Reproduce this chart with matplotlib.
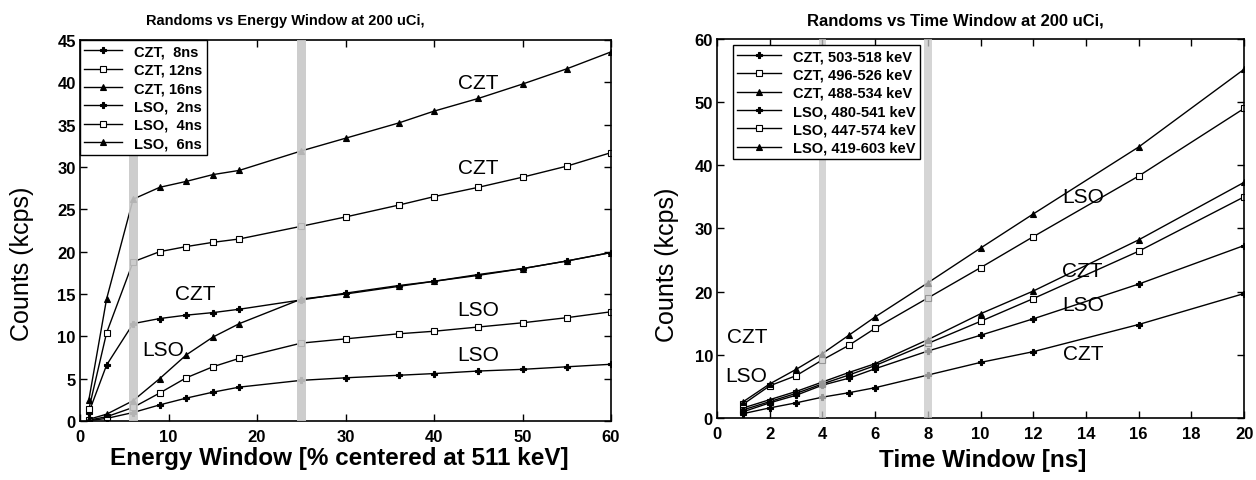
import matplotlib
matplotlib.use("Agg")
import matplotlib.pyplot as plt

plt.rcParams['font.family'] = ['Liberation Sans', 'DejaVu Sans']

# left panel: energy window sweep
energy_x = [1, 3, 6, 9, 12, 15, 18, 25, 30, 36, 40, 45, 50, 55, 60]
czt_8ns = [1.0, 6.6, 11.5, 12.1, 12.5, 12.8, 13.2, 14.3, 15.1, 16.0, 16.5, 17.3, 18.0, 18.9, 19.9]
czt_12ns = [1.4, 10.4, 18.8, 20.0, 20.6, 21.1, 21.5, 23.0, 24.1, 25.5, 26.5, 27.6, 28.8, 30.1, 31.7]
czt_16ns = [2.5, 14.4, 26.2, 27.6, 28.3, 29.1, 29.6, 31.9, 33.4, 35.2, 36.6, 38.1, 39.8, 41.6, 43.6]
lso_2ns = [0.05, 0.3, 1.0, 1.9, 2.7, 3.4, 4.0, 4.8, 5.1, 5.4, 5.6, 5.9, 6.1, 6.4, 6.7]
lso_4ns = [0.1, 0.5, 1.6, 3.3, 5.1, 6.4, 7.4, 9.2, 9.7, 10.3, 10.6, 11.1, 11.6, 12.2, 12.9]
lso_6ns = [0.2, 0.8, 2.4, 5.0, 7.8, 9.9, 11.5, 14.4, 15.0, 15.9, 16.5, 17.2, 18.0, 18.9, 19.9]
energy_labels = ['CZT,  8ns', 'CZT, 12ns', 'CZT, 16ns', 'LSO,  2ns', 'LSO,  4ns', 'LSO,  6ns']

# right panel: time window sweep
time_x = [1, 2, 3, 4, 5, 6, 8, 10, 12, 16, 20]
czt_503 = [0.7, 1.6, 2.4, 3.3, 4.0, 4.8, 6.8, 8.8, 10.5, 14.8, 19.7]
czt_496 = [1.3, 2.6, 3.9, 5.4, 6.8, 8.3, 11.8, 15.3, 18.9, 26.4, 35.0]
czt_488 = [1.6, 2.9, 4.2, 5.7, 7.2, 8.6, 12.4, 16.5, 20.1, 28.2, 37.3]
lso_480 = [1.0, 2.4, 3.6, 5.2, 6.3, 7.8, 10.6, 13.1, 15.7, 21.2, 27.3]
lso_447 = [2.2, 5.1, 6.7, 9.2, 11.5, 14.2, 19.0, 23.8, 28.7, 38.3, 49.0]
lso_419 = [2.6, 5.4, 7.7, 10.2, 13.1, 16.0, 21.4, 26.9, 32.3, 42.9, 55.2]
time_labels = ['CZT, 503-518 keV', 'CZT, 496-526 keV', 'CZT, 488-534 keV',
               'LSO, 480-541 keV', 'LSO, 447-574 keV', 'LSO, 419-603 keV']

markers = ['P', 's', '^', 'P', 's', '^']

fig = plt.figure(figsize=(12.56, 4.81), dpi=100)
ax1 = fig.add_axes([0.0637, 0.1227, 0.4228, 0.792])
ax2 = fig.add_axes([0.5709, 0.1289, 0.4196, 0.788])


def draw(ax, x, series, labels):
    for ys, lab, m in zip(series, labels, markers):
        mfc = 'white' if m == 's' else 'black'
        ax.plot(x, ys, color='black', linewidth=1.0, marker=m, markersize=4,
                markerfacecolor=mfc, markeredgecolor='black', markeredgewidth=0.8,
                label=lab, zorder=2)


draw(ax1, energy_x, [czt_8ns, czt_12ns, czt_16ns, lso_2ns, lso_4ns, lso_6ns], energy_labels)
draw(ax2, time_x, [czt_503, czt_496, czt_488, lso_480, lso_447, lso_419], time_labels)

# grey window markers
for c in [6, 25]:
    ax1.axvspan(c - 0.5, c + 0.5, color='#c8c8c8', alpha=0.9, lw=0, zorder=3)
for c in [4, 8]:
    ax2.axvspan(c - 0.15, c + 0.15, color='#c8c8c8', alpha=0.75, lw=0, zorder=3)

ax1.set_xlim(0, 60)
ax1.set_ylim(0, 45)
ax1.set_xticks(range(0, 61, 10))
ax1.set_yticks(range(0, 46, 5))
ax2.set_xlim(0, 20)
ax2.set_ylim(0, 60)
ax2.set_xticks(range(0, 21, 2))
ax2.set_yticks(range(0, 61, 10))

for ax in (ax1, ax2):
    ax.tick_params(direction='in', top=True, right=True, length=5, width=1.0,
                   labelsize=12)
    ax.tick_params(axis='x', pad=6)
    ax.tick_params(axis='y', pad=3)
    for lab in ax.get_xticklabels() + ax.get_yticklabels():
        lab.set_fontweight('bold')
    for sp in ax.spines.values():
        sp.set_linewidth(1.2)

leg1 = ax1.legend(loc='upper left', borderaxespad=0, fancybox=False, edgecolor='black',
                  prop={'size': 10.5, 'weight': 'bold'}, handlelength=2.6,
                  handletextpad=0.8, labelspacing=0.3, borderpad=0.3, framealpha=1)
leg1.get_frame().set_linewidth(1.0)
leg2 = ax2.legend(loc='upper left', bbox_to_anchor=(0.03, 0.985), borderaxespad=0,
                  fancybox=False, edgecolor='black', prop={'size': 10.5, 'weight': 'bold'},
                  handlelength=3.0, handletextpad=0.8, labelspacing=0.3, borderpad=0.3,
                  framealpha=1)
leg2.get_frame().set_linewidth(1.0)

# curve labels
txt = dict(fontsize=15, ha='center', va='center')
ax1.text(45, 40, 'CZT', **txt)
ax1.text(45, 30, 'CZT', **txt)
ax1.text(13, 15, 'CZT', **txt)
ax1.text(9.4, 8.4, 'LSO', **txt)
ax1.text(45, 13.2, 'LSO', **txt)
ax1.text(45, 7.8, 'LSO', **txt)

ax2.text(13.9, 35.0, 'LSO', **txt)
ax2.text(13.85, 23.3, 'CZT', **txt)
ax2.text(13.9, 18.0, 'LSO', **txt)
ax2.text(13.9, 10.2, 'CZT', **txt)
ax2.text(1.13, 12.9, 'CZT', **txt)
ax2.text(1.09, 6.8, 'LSO', **txt)

# titles and axis labels
fig.text(285 / 1256, 1 - 21 / 481, 'Randoms vs Energy Window at 200 uCi,',
         fontsize=10.5, fontweight='bold', ha='center', va='center')
fig.text(955 / 1256, 1 - 21 / 481, 'Randoms vs Time Window at 200 uCi,',
         fontsize=12, fontweight='bold', ha='center', va='center')
fig.text(339 / 1256, 1 - 459 / 481, 'Energy Window [% centered at 511 keV]',
         fontsize=17.5, fontweight='bold', ha='center', va='center')
fig.text(983 / 1256, 1 - 460 / 481, 'Time Window [ns]',
         fontsize=17.5, fontweight='bold', ha='center', va='center')
fig.text(22 / 1256, 1 - 264 / 481, 'Counts (kcps)', fontsize=18,
         rotation=90, ha='center', va='center')
fig.text(667 / 1256, 1 - 265 / 481, 'Counts (kcps)', fontsize=18,
         rotation=90, ha='center', va='center')

fig.savefig('out.png', dpi=100)
